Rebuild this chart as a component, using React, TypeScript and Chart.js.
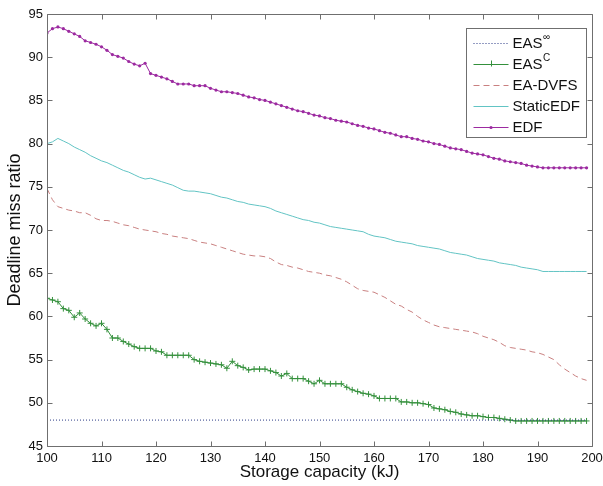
import React, { useEffect, useRef } from 'react';
import { Chart, registerables } from 'chart.js';

Chart.register(...registerables);

// ---------------- data ----------------
const capacity = [
  100, 101, 102, 103, 104, 105, 106, 107, 108, 109,
  110, 111, 112, 113, 114, 115, 116, 117, 118, 119,
  120, 121, 122, 123, 124, 125, 126, 127, 128, 129,
  130, 131, 132, 133, 134, 135, 136, 137, 138, 139,
  140, 141, 142, 143, 144, 145, 146, 147, 148, 149,
  150, 151, 152, 153, 154, 155, 156, 157, 158, 159,
  160, 161, 162, 163, 164, 165, 166, 167, 168, 169,
  170, 171, 172, 173, 174, 175, 176, 177, 178, 179,
  180, 181, 182, 183, 184, 185, 186, 187, 188, 189,
  190, 191, 192, 193, 194, 195, 196, 197, 198, 199,
];

const easInf = [
  48.0, 48.0, 48.0, 48.0, 48.0, 48.0, 48.0, 48.0, 48.0, 48.0,
  48.0, 48.0, 48.0, 48.0, 48.0, 48.0, 48.0, 48.0, 48.0, 48.0,
  48.0, 48.0, 48.0, 48.0, 48.0, 48.0, 48.0, 48.0, 48.0, 48.0,
  48.0, 48.0, 48.0, 48.0, 48.0, 48.0, 48.0, 48.0, 48.0, 48.0,
  48.0, 48.0, 48.0, 48.0, 48.0, 48.0, 48.0, 48.0, 48.0, 48.0,
  48.0, 48.0, 48.0, 48.0, 48.0, 48.0, 48.0, 48.0, 48.0, 48.0,
  48.0, 48.0, 48.0, 48.0, 48.0, 48.0, 48.0, 48.0, 48.0, 48.0,
  48.0, 48.0, 48.0, 48.0, 48.0, 48.0, 48.0, 48.0, 48.0, 48.0,
  48.0, 48.0, 48.0, 48.0, 48.0, 48.0, 48.0, 48.0, 48.0, 48.0,
  48.0, 48.0, 48.0, 48.0, 48.0, 48.0, 48.0, 48.0, 48.0, 48.0,
];

const easC = [
  62.1, 61.9, 61.7, 60.9, 60.7, 59.9, 60.4, 59.7, 59.2, 58.9,
  59.2, 58.5, 57.5, 57.5, 57.1, 56.8, 56.5, 56.3, 56.3, 56.3,
  56.0, 55.9, 55.5, 55.5, 55.5, 55.5, 55.5, 55.0, 54.8, 54.7,
  54.6, 54.5, 54.4, 54.0, 54.8, 54.3, 54.1, 53.8, 53.9, 53.9,
  53.9, 53.7, 53.5, 53.1, 53.4, 52.8, 52.8, 52.8, 52.5, 52.2,
  52.6, 52.2, 52.2, 52.2, 52.2, 51.8, 51.5, 51.3, 51.1, 51.0,
  50.8, 50.5, 50.5, 50.5, 50.5, 50.1, 50.1, 50.0, 50.0, 49.9,
  49.8, 49.4, 49.3, 49.2, 49.0, 48.9, 48.7, 48.6, 48.5, 48.5,
  48.4, 48.3, 48.3, 48.2, 48.1, 48.0, 47.9, 47.9, 47.9, 47.9,
  47.9, 47.9, 47.9, 47.9, 47.9, 47.9, 47.9, 47.9, 47.9, 47.9,
];

const eaDvfs = [
  74.8, 73.5, 72.7, 72.5, 72.3, 72.2, 72.0, 72.0, 71.7, 71.3,
  71.1, 71.1, 71.0, 70.8, 70.6, 70.5, 70.3, 70.1, 70.0, 69.9,
  69.8, 69.6, 69.5, 69.3, 69.2, 69.1, 69.0, 68.8, 68.6, 68.5,
  68.4, 68.2, 68.0, 67.8, 67.6, 67.4, 67.2, 67.1, 67.0, 67.0,
  66.9, 66.7, 66.3, 66.0, 65.9, 65.7, 65.6, 65.4, 65.2, 65.1,
  65.0, 64.8, 64.7, 64.5, 64.3, 64.0, 63.6, 63.2, 63.0, 62.9,
  62.8, 62.5, 62.2, 61.8, 61.4, 61.2, 60.8, 60.5, 60.0, 59.6,
  59.3, 59.0, 58.8, 58.7, 58.6, 58.5, 58.4, 58.3, 58.2, 58.0,
  57.7, 57.5, 57.3, 57.0, 56.6, 56.4, 56.3, 56.2, 56.1, 55.9,
  55.8, 55.6, 55.3, 55.0, 54.4, 53.9, 53.5, 53.1, 52.8, 52.6,
];

const staticEdf = [
  80.0, 80.2, 80.6, 80.3, 80.0, 79.6, 79.3, 79.0, 78.6, 78.3,
  78.0, 77.8, 77.5, 77.2, 76.9, 76.7, 76.4, 76.1, 75.9, 76.0,
  75.8, 75.6, 75.4, 75.2, 74.9, 74.6, 74.5, 74.5, 74.4, 74.3,
  74.2, 74.0, 73.8, 73.7, 73.5, 73.3, 73.2, 73.0, 72.9, 72.8,
  72.7, 72.5, 72.2, 72.0, 71.8, 71.6, 71.4, 71.2, 71.1, 70.9,
  70.8, 70.6, 70.4, 70.3, 70.2, 70.1, 70.0, 69.9, 69.8, 69.5,
  69.3, 69.2, 69.1, 68.9, 68.7, 68.6, 68.5, 68.4, 68.2, 68.1,
  68.0, 67.9, 67.8, 67.6, 67.4, 67.3, 67.2, 67.1, 66.9, 66.7,
  66.6, 66.5, 66.4, 66.2, 66.1, 66.0, 65.9, 65.7, 65.6, 65.5,
  65.4, 65.2, 65.2, 65.2, 65.2, 65.2, 65.2, 65.2, 65.2, 65.2,
];

const edf = [
  92.8, 93.3, 93.5, 93.3, 93.0, 92.7, 92.4, 91.9, 91.7, 91.5,
  91.2, 90.8, 90.3, 90.1, 89.9, 89.5, 89.2, 89.0, 89.3, 88.1,
  87.9, 87.7, 87.5, 87.2, 86.9, 86.9, 86.9, 86.7, 86.7, 86.7,
  86.4, 86.2, 86.0, 86.0, 85.9, 85.8, 85.6, 85.4, 85.3, 85.1,
  85.0, 84.8, 84.6, 84.4, 84.2, 84.0, 83.8, 83.7, 83.5, 83.3,
  83.2, 83.0, 82.9, 82.7, 82.6, 82.5, 82.3, 82.1, 82.0, 81.8,
  81.7, 81.5, 81.3, 81.2, 81.0, 80.8, 80.8, 80.6, 80.5, 80.3,
  80.2, 80.0, 79.9, 79.7, 79.5, 79.4, 79.3, 79.1, 78.9, 78.8,
  78.7, 78.5, 78.3, 78.2, 78.0, 77.9, 77.8, 77.7, 77.5, 77.4,
  77.3, 77.2, 77.2, 77.2, 77.2, 77.2, 77.2, 77.2, 77.2, 77.2,
];

const xTicks = [100, 110, 120, 130, 140, 150, 160, 170, 180, 190, 200];
const yTicks = [45, 50, 55, 60, 65, 70, 75, 80, 85, 90, 95];

const legendNames = [
  { base: 'EAS', sup: '\u221E' },
  { base: 'EAS', sup: 'C' },
  { base: 'EA-DVFS', sup: '' },
  { base: 'StaticEDF', sup: '' },
  { base: 'EDF', sup: '' },
];

// ---------------- styles ----------------
const FONT = "'Liberation Sans', Arial, Helvetica, sans-serif";
const C_INF = '#2a3a86';
const C_EASC = '#34903c';
const C_DVFS = '#c98080';
const C_STATIC = '#62c4c4';
const C_EDF = '#9c2aa0';
const AXIS = '#6f6f6f';

const frame = {
  id: 'matlabFrame',
  afterDatasetsDraw(chart: any) {
    const { ctx, chartArea } = chart;
    const { left, right, top, bottom } = chartArea;
    const xs = chart.scales.x;
    const ys = chart.scales.y;
    ctx.save();
    ctx.strokeStyle = AXIS;
    ctx.lineWidth = 1;
    ctx.setLineDash([]);
    const L = Math.round(left) + 0.5;
    const R = Math.round(right) + 0.5;
    const T = Math.round(top) + 0.5;
    const B = Math.round(bottom) + 0.5;
    ctx.beginPath();
    ctx.rect(L, T, R - L, B - T);
    ctx.stroke();
    const tl = 5;
    ctx.beginPath();
    xTicks.forEach((v) => {
      const px = Math.round(xs.getPixelForValue(v)) + 0.5;
      ctx.moveTo(px, B);
      ctx.lineTo(px, B - tl);
      ctx.moveTo(px, T);
      ctx.lineTo(px, T + tl);
    });
    yTicks.forEach((v) => {
      const py = Math.round(ys.getPixelForValue(v)) + 0.5;
      ctx.moveTo(L, py);
      ctx.lineTo(L + tl, py);
      ctx.moveTo(R, py);
      ctx.lineTo(R - tl, py);
    });
    ctx.stroke();
    ctx.restore();
  },
};

const legend = {
  id: 'matlabLegend',
  afterDraw(chart: any) {
    const { ctx, chartArea } = chart;
    const w = 120;
    const h = 109;
    const x0 = Math.round(chartArea.right - 6 - w) + 0.5;
    const y0 = Math.round(chartArea.top + 14) + 0.5;
    ctx.save();
    ctx.fillStyle = '#ffffff';
    ctx.fillRect(x0, y0, w, h);
    ctx.strokeStyle = AXIS;
    ctx.lineWidth = 1;
    ctx.setLineDash([]);
    ctx.strokeRect(x0, y0, w, h);
    const rowH = 21;
    chart.data.datasets.forEach((ds: any, i: number) => {
      const cy = y0 + 14 + i * rowH;
      const lx0 = x0 + 7;
      const lx1 = x0 + 42;
      ctx.save();
      ctx.strokeStyle = ds.borderColor;
      ctx.lineWidth = ds.borderWidth;
      ctx.setLineDash(ds.borderDash || []);
      ctx.beginPath();
      ctx.moveTo(lx0, Math.round(cy) + 0.5);
      ctx.lineTo(lx1, Math.round(cy) + 0.5);
      ctx.stroke();
      ctx.setLineDash([]);
      const mx = (lx0 + lx1) / 2;
      if (ds.pointStyle === 'cross') {
        ctx.beginPath();
        ctx.moveTo(mx - 3, Math.round(cy) + 0.5);
        ctx.lineTo(mx + 3, Math.round(cy) + 0.5);
        ctx.moveTo(Math.round(mx) + 0.5, cy - 3);
        ctx.lineTo(Math.round(mx) + 0.5, cy + 3);
        ctx.stroke();
      } else if (ds.pointRadius > 0) {
        ctx.fillStyle = ds.pointBackgroundColor;
        ctx.beginPath();
        ctx.arc(mx, Math.round(cy) + 0.5, ds.pointRadius, 0, Math.PI * 2);
        ctx.fill();
      }
      ctx.restore();
      const name = legendNames[i];
      ctx.fillStyle = '#111';
      ctx.textBaseline = 'middle';
      ctx.textAlign = 'left';
      ctx.font = `15px ${FONT}`;
      const tx = x0 + 46;
      ctx.fillText(name.base, tx, cy + 1);
      if (name.sup) {
        const bw = ctx.measureText(name.base).width;
        ctx.font = `10px ${FONT}`;
        ctx.fillText(name.sup, tx + bw + 0.5, cy - 5);
      }
    });
    ctx.restore();
  },
};

export default function App() {
  const ref = useRef<HTMLCanvasElement>(null);

  useEffect(() => {
    document.body.style.margin = '0';
    const canvas = ref.current;
    if (!canvas) return;
    const mk = (arr: number[]) => capacity.map((c, i) => ({ x: c, y: arr[i] }));

    const chart = new Chart(canvas, {
      type: 'line',
      data: {
        datasets: [
          {
            label: 'EAS\u221E',
            data: mk(easInf),
            borderColor: C_INF,
            borderWidth: 1,
            borderDash: [1, 2],
            pointRadius: 0,
            fill: false,
          },
          {
            label: 'EASC',
            data: mk(easC),
            borderColor: C_EASC,
            borderWidth: 1,
            pointStyle: 'cross',
            pointRadius: 3,
            pointBorderColor: C_EASC,
            pointBorderWidth: 1,
            fill: false,
          },
          {
            label: 'EA-DVFS',
            data: mk(eaDvfs),
            borderColor: C_DVFS,
            borderWidth: 1,
            borderDash: [6, 4],
            pointRadius: 0,
            fill: false,
          },
          {
            label: 'StaticEDF',
            data: mk(staticEdf),
            borderColor: C_STATIC,
            borderWidth: 1,
            pointRadius: 0,
            fill: false,
          },
          {
            label: 'EDF',
            data: mk(edf),
            borderColor: C_EDF,
            borderWidth: 1,
            pointStyle: 'circle',
            pointRadius: 1.6,
            pointBackgroundColor: C_EDF,
            pointBorderWidth: 0,
            fill: false,
          },
        ] as any,
      },
      options: {
        responsive: false,
        animation: false,
        events: [],
        layout: { padding: { top: 14, right: 11, left: 0, bottom: 0 } },
        plugins: {
          legend: { display: false },
          tooltip: { enabled: false },
        },
        elements: { line: { tension: 0 } },
        scales: {
          x: {
            type: 'linear',
            min: 100,
            max: 200,
            ticks: {
              stepSize: 10,
              autoSkip: false,
              maxRotation: 0,
              color: '#111',
              padding: 5,
              font: { family: FONT, size: 13 },
            },
            grid: { display: false, drawTicks: false },
            border: { display: false },
            title: {
              display: true,
              text: 'Storage capacity (kJ)',
              color: '#111',
              font: { family: FONT, size: 17 },
              padding: { top: 3, bottom: 3 },
            },
            afterFit(s: any) {
              s.height = 40;
              s.paddingLeft = 0;
              s.paddingRight = 0;
            },
          },
          y: {
            type: 'linear',
            min: 45,
            max: 95,
            ticks: {
              stepSize: 5,
              autoSkip: false,
              color: '#111',
              padding: 4,
              font: { family: FONT, size: 13 },
            },
            grid: { display: false, drawTicks: false },
            border: { display: false },
            title: {
              display: true,
              text: 'Deadline miss ratio',
              color: '#111',
              font: { family: FONT, size: 18 },
              padding: { top: 4, bottom: 4 },
            },
            afterFit(s: any) {
              s.width = 47;
              s.paddingTop = 0;
              s.paddingBottom = 0;
            },
          },
        },
      },
      plugins: [frame, legend],
    });

    return () => chart.destroy();
  }, []);

  return (
    <div style={{ width: 603, height: 486 }}>
      <canvas ref={ref} width={603} height={486} style={{ display: 'block' }} />
    </div>
  );
}
